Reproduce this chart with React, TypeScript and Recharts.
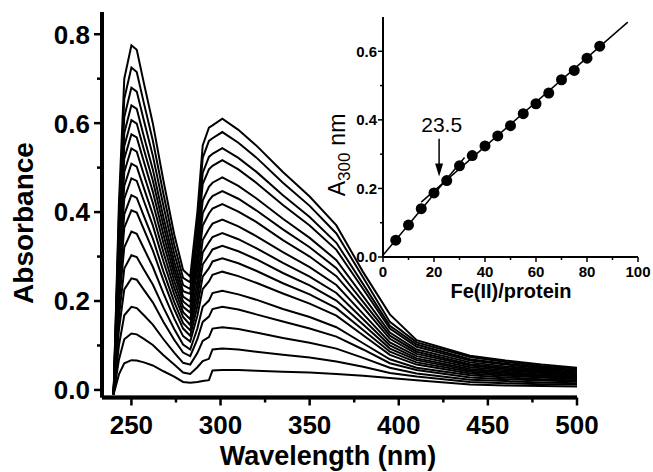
import React from "react";
import {
  LineChart,
  Line,
  XAxis,
  YAxis,
  ComposedChart,
  Scatter,
  ReferenceLine,
  ReferenceDot,
} from "recharts";

const FONT = '"Liberation Sans", Arial, Helvetica, sans-serif';

// wavelength grid (nm) shared by all spectra
const wavelengths = [
  240, 243, 246, 250, 253, 257, 262, 268, 274, 279, 283, 287, 290, 293.5, 295.5,
  301, 310, 320, 335, 350, 365, 380, 395, 410, 440, 460, 480, 500,
];

// absorbance spectra, one per Fe(II)/protein addition
const fe05 = [-0.01, 0.035, 0.06, 0.067, 0.066, 0.062, 0.055, 0.042, 0.03, 0.018, 0.016, 0.018, 0.02, 0.022, 0.044, 0.045, 0.045, 0.043, 0.041, 0.039, 0.036, 0.032, 0.027, 0.022, 0.012, 0.01, 0.009, 0.008];
const fe10 = [-0.01, 0.068, 0.114, 0.127, 0.125, 0.115, 0.101, 0.078, 0.057, 0.039, 0.036, 0.051, 0.065, 0.07, 0.091, 0.093, 0.091, 0.086, 0.079, 0.073, 0.064, 0.052, 0.038, 0.03, 0.018, 0.015, 0.013, 0.012];
const fe15 = [-0.01, 0.1, 0.168, 0.187, 0.184, 0.168, 0.147, 0.114, 0.084, 0.061, 0.057, 0.083, 0.11, 0.119, 0.138, 0.141, 0.137, 0.129, 0.117, 0.106, 0.093, 0.072, 0.05, 0.037, 0.023, 0.02, 0.017, 0.015];
const fe20 = [-0.01, 0.135, 0.226, 0.251, 0.248, 0.225, 0.197, 0.153, 0.113, 0.084, 0.076, 0.114, 0.153, 0.165, 0.182, 0.187, 0.181, 0.17, 0.154, 0.138, 0.12, 0.091, 0.06, 0.045, 0.028, 0.024, 0.021, 0.019];
const fe25 = [-0.01, 0.163, 0.273, 0.303, 0.299, 0.271, 0.237, 0.185, 0.137, 0.102, 0.091, 0.138, 0.187, 0.201, 0.218, 0.223, 0.215, 0.203, 0.182, 0.164, 0.141, 0.105, 0.069, 0.05, 0.033, 0.028, 0.024, 0.021];
const fe30 = [-0.01, 0.192, 0.321, 0.356, 0.351, 0.318, 0.277, 0.217, 0.161, 0.121, 0.109, 0.167, 0.227, 0.244, 0.259, 0.266, 0.256, 0.241, 0.217, 0.194, 0.167, 0.123, 0.079, 0.057, 0.037, 0.032, 0.028, 0.024];
const fe35 = [-0.01, 0.218, 0.365, 0.404, 0.399, 0.361, 0.314, 0.246, 0.182, 0.138, 0.122, 0.188, 0.255, 0.274, 0.289, 0.296, 0.285, 0.268, 0.24, 0.215, 0.184, 0.135, 0.086, 0.062, 0.041, 0.035, 0.03, 0.027];
const fe40 = [-0.01, 0.237, 0.395, 0.438, 0.432, 0.391, 0.341, 0.266, 0.198, 0.15, 0.134, 0.207, 0.282, 0.303, 0.316, 0.324, 0.312, 0.294, 0.263, 0.235, 0.201, 0.147, 0.093, 0.067, 0.044, 0.038, 0.033, 0.029];
const fe45 = [-0.01, 0.258, 0.43, 0.476, 0.47, 0.425, 0.37, 0.289, 0.215, 0.164, 0.146, 0.226, 0.309, 0.332, 0.344, 0.353, 0.339, 0.319, 0.286, 0.255, 0.218, 0.159, 0.1, 0.071, 0.047, 0.041, 0.035, 0.031];
const fe50 = [-0.01, 0.275, 0.459, 0.509, 0.502, 0.454, 0.395, 0.309, 0.23, 0.175, 0.159, 0.246, 0.337, 0.362, 0.374, 0.383, 0.368, 0.346, 0.31, 0.276, 0.236, 0.171, 0.107, 0.076, 0.051, 0.044, 0.038, 0.033];
const fe55 = [-0.01, 0.294, 0.49, 0.543, 0.536, 0.484, 0.421, 0.33, 0.245, 0.187, 0.174, 0.27, 0.37, 0.397, 0.408, 0.418, 0.401, 0.378, 0.337, 0.3, 0.256, 0.186, 0.115, 0.081, 0.055, 0.047, 0.041, 0.036];
const fe60 = [-0.01, 0.311, 0.52, 0.575, 0.568, 0.513, 0.446, 0.349, 0.26, 0.199, 0.186, 0.29, 0.397, 0.426, 0.436, 0.447, 0.43, 0.404, 0.361, 0.321, 0.274, 0.198, 0.122, 0.086, 0.058, 0.05, 0.043, 0.038];
const fe65 = [-0.01, 0.329, 0.548, 0.607, 0.599, 0.541, 0.471, 0.369, 0.274, 0.21, 0.199, 0.311, 0.426, 0.457, 0.466, 0.478, 0.459, 0.431, 0.385, 0.342, 0.292, 0.211, 0.129, 0.091, 0.062, 0.053, 0.046, 0.04];
const fe70 = [-0.01, 0.347, 0.578, 0.64, 0.632, 0.57, 0.496, 0.388, 0.289, 0.222, 0.216, 0.337, 0.463, 0.496, 0.504, 0.517, 0.496, 0.466, 0.416, 0.37, 0.315, 0.227, 0.138, 0.097, 0.066, 0.057, 0.049, 0.043];
const fe75 = [-0.01, 0.368, 0.614, 0.68, 0.671, 0.606, 0.527, 0.413, 0.307, 0.236, 0.227, 0.355, 0.488, 0.524, 0.531, 0.544, 0.522, 0.491, 0.438, 0.389, 0.331, 0.238, 0.144, 0.102, 0.069, 0.059, 0.051, 0.045];
const fe80 = [-0.01, 0.393, 0.655, 0.725, 0.715, 0.645, 0.561, 0.44, 0.327, 0.252, 0.242, 0.38, 0.522, 0.56, 0.566, 0.58, 0.556, 0.523, 0.466, 0.414, 0.352, 0.253, 0.153, 0.107, 0.074, 0.063, 0.054, 0.048];
const fe85 = [-0.01, 0.42, 0.7, 0.775, 0.765, 0.69, 0.6, 0.47, 0.35, 0.27, 0.255, 0.4, 0.55, 0.59, 0.595, 0.61, 0.585, 0.55, 0.49, 0.435, 0.37, 0.265, 0.17, 0.112, 0.077, 0.066, 0.057, 0.05];

const spectra: [string, number[]][] = [
  ["fe05", fe05], ["fe10", fe10], ["fe15", fe15], ["fe20", fe20], ["fe25", fe25],
  ["fe30", fe30], ["fe35", fe35], ["fe40", fe40], ["fe45", fe45], ["fe50", fe50],
  ["fe55", fe55], ["fe60", fe60], ["fe65", fe65], ["fe70", fe70], ["fe75", fe75],
  ["fe80", fe80], ["fe85", fe85],
];

const wlDomain = [233.5, 500];
const absDomain = [-0.017, 0.85];
const wlTicks = [250, 275, 300, 325, 350, 375, 400, 425, 450, 475, 500];
const absTicks = [0, 0.1, 0.2, 0.3, 0.4, 0.5, 0.6, 0.7, 0.8];

// inset: A300 vs Fe(II)/protein
const feRatio = [5, 10, 15, 20, 25, 30, 35, 40, 45, 50, 55, 60, 65, 70, 75, 80, 85];
const a300 = [0.049, 0.093, 0.141, 0.187, 0.223, 0.266, 0.296, 0.324, 0.353, 0.383, 0.418, 0.447, 0.478, 0.517, 0.544, 0.58, 0.615];
const fitLow = [{ x: 0, y: 0.005 }, { x: 32, y: 0.29 }];
const fitHigh = [{ x: 15, y: 0.16 }, { x: 96, y: 0.685 }];
const breakLabel = "23.5";
const arrowX = 22;
const ratioTicks = [0, 10, 20, 30, 40, 50, 60, 70, 80, 90, 100];
const a300Ticks = [0, 0.1, 0.2, 0.3, 0.4, 0.5, 0.6];

const mainData = wavelengths.map((wl, k) => {
  const row: Record<string, number> = { wl };
  spectra.forEach(([key, arr]) => {
    row[key] = arr[k];
  });
  return row;
});

const titrationPoints = feRatio.map((x, i) => ({ x, y: a300[i] }));

function MainXTick({ x, y, payload }: any) {
  const major = payload.value % 50 === 0;
  return (
    <g>
      <line x1={x} x2={x} y1={y} y2={y + (major ? 8 : 5)} stroke="#000" strokeWidth={2.5} />
      {major && (
        <text x={x} y={y + 36} textAnchor="middle" fontFamily={FONT} fontWeight="bold" fontSize={26} fill="#000">
          {payload.value}
        </text>
      )}
    </g>
  );
}

function MainYTick({ x, y, payload }: any) {
  const major = Math.round(payload.value * 10) % 2 === 0;
  return (
    <g>
      <line x1={x - (major ? 8 : 5)} x2={x} y1={y} y2={y} stroke="#000" strokeWidth={2.5} />
      {major && (
        <text x={x - 12} y={y} dy="0.36em" textAnchor="end" fontFamily={FONT} fontWeight="bold" fontSize={26} fill="#000">
          {payload.value.toFixed(1)}
        </text>
      )}
    </g>
  );
}

function InsetXTick({ x, y, payload }: any) {
  const major = payload.value % 20 === 0;
  return (
    <g>
      <line x1={x} x2={x} y1={y} y2={y + (major ? 5 : 3)} stroke="#000" strokeWidth={1.5} />
      {major && (
        <text x={x} y={y + 20} textAnchor="middle" fontFamily={FONT} fontWeight="bold" fontSize={15} fill="#000">
          {payload.value}
        </text>
      )}
    </g>
  );
}

function InsetYTick({ x, y, payload }: any) {
  const major = Math.round(payload.value * 10) % 2 === 0;
  return (
    <g>
      <line x1={x - (major ? 5 : 3)} x2={x} y1={y} y2={y} stroke="#000" strokeWidth={1.5} />
      {major && (
        <text x={x - 6} y={y} dy="0.36em" textAnchor="end" fontFamily={FONT} fontWeight="bold" fontSize={15} fill="#000">
          {payload.value.toFixed(1)}
        </text>
      )}
    </g>
  );
}

export default function App() {
  return (
    <div style={{ position: "absolute", left: 0, top: 0, width: 653, height: 472, background: "#fff" }}>
      <LineChart
        width={653}
        height={472}
        data={mainData}
        margin={{ top: 12, right: 76, bottom: 34.5, left: 42 }}
      >
        <XAxis
          dataKey="wl"
          type="number"
          domain={wlDomain}
          ticks={wlTicks}
          interval={0}
          tickSize={0}
          tickMargin={0}
          tick={<MainXTick />}
          axisLine={{ stroke: "#000", strokeWidth: 3.5 }}
          height={40}
          allowDataOverflow
        />
        <YAxis
          type="number"
          domain={absDomain}
          ticks={absTicks}
          interval={0}
          tickSize={0}
          tickMargin={0}
          tick={<MainYTick />}
          axisLine={{ stroke: "#000", strokeWidth: 3.5 }}
          width={60}
          allowDataOverflow
        />
        {/* heavy frame lines on the two axes, as in the printed figure */}
        <ReferenceLine x={wlDomain[0]} stroke="#000" strokeWidth={4} />
        <ReferenceLine y={absDomain[0]} stroke="#000" strokeWidth={4} />
        {spectra.map(([key]) => (
          <Line
            key={key}
            dataKey={key}
            type="linear"
            stroke="#000"
            strokeWidth={2}
            dot={false}
            isAnimationActive={false}
          />
        ))}
      </LineChart>

      <div style={{ position: "absolute", left: 300, top: 0 }}>
        <ComposedChart width={353} height={310} margin={{ top: 17, right: 15, bottom: 23, left: 33 }}>
          <XAxis
            dataKey="x"
            type="number"
            domain={[0, 100]}
            ticks={ratioTicks}
            interval={0}
            tickSize={0}
            tickMargin={0}
            tick={<InsetXTick />}
            axisLine={{ stroke: "#000", strokeWidth: 2 }}
            height={30}
          />
          <YAxis
            dataKey="y"
            type="number"
            domain={[0, 0.7]}
            ticks={a300Ticks}
            interval={0}
            tickSize={0}
            tickMargin={0}
            tick={<InsetYTick />}
            axisLine={{ stroke: "#000", strokeWidth: 2 }}
            width={50}
          />
          <Line data={fitLow} dataKey="y" type="linear" stroke="#000" strokeWidth={1.5} dot={false} isAnimationActive={false} />
          <Line data={fitHigh} dataKey="y" type="linear" stroke="#000" strokeWidth={1.5} dot={false} isAnimationActive={false} />
          <Scatter
            data={titrationPoints}
            dataKey="y"
            fill="#000"
            isAnimationActive={false}
            shape={(p: any) => <circle cx={p.cx} cy={p.cy} r={5.5} fill="#000" />}
          />
          <ReferenceLine
            segment={[{ x: arrowX, y: 0.345 }, { x: arrowX, y: 0.25 }]}
            stroke="#000"
            strokeWidth={1.5}
          />
          <ReferenceDot
            x={arrowX}
            y={0.235}
            shape={(p: any) => (
              <path d={`M${p.cx},${p.cy} l-4,-13 l8,0 z`} fill="#000" />
            )}
          />
          <ReferenceDot
            x={23}
            y={0.366}
            shape={(p: any) => (
              <text x={p.cx} y={p.cy} textAnchor="middle" fontFamily={FONT} fontSize={21} fill="#000">
                {breakLabel}
              </text>
            )}
          />
        </ComposedChart>
      </div>

      <svg
        width={653}
        height={472}
        style={{ position: "absolute", left: 0, top: 0, pointerEvents: "none" }}
      >
        <text
          transform="translate(33,223) rotate(-90)"
          textAnchor="middle"
          fontFamily={FONT}
          fontWeight="bold"
          fontSize={28}
          fill="#000"
        >
          Absorbance
        </text>
        <text x={328} y={465} textAnchor="middle" fontFamily={FONT} fontWeight="bold" fontSize={27} fill="#000">
          Wavelength (nm)
        </text>
        <text x={511} y={298} textAnchor="middle" fontFamily={FONT} fontWeight="bold" fontSize={20} fill="#000">
          Fe(II)/protein
        </text>
        <text transform="translate(345,155) rotate(-90)" textAnchor="middle" fontFamily={FONT} fontSize={23} fill="#000">
          A
          <tspan fontSize={17} dy={5}>300</tspan>
          <tspan dx={7} dy={-5}>nm</tspan>
        </text>
      </svg>
    </div>
  );
}
